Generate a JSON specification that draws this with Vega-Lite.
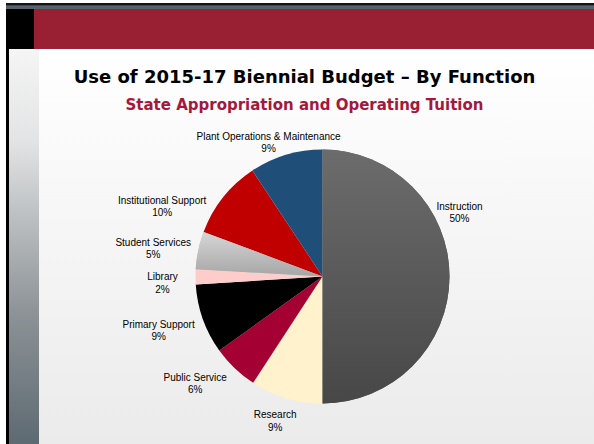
{
  "$schema": "https://vega.github.io/schema/vega-lite/v6.json",
  "background": "#ffffff",
  "padding": {"left": 6, "top": 3, "right": 0, "bottom": 0},
  "config": {"view": {"stroke": null}, "concat": {"spacing": 0}, "text": {"font": "Liberation Sans", "fontSize": 10, "lineBreak": "\n", "lineHeight": 12.5, "align": "center", "baseline": "middle", "color": "#000000"}},
  "spacing": 0,
  "vconcat": [
    {
      "width": 588, "height": 6,
      "data": {"values": [{}]},
      "mark": {"type": "rect", "color": {"gradient": "linear", "x1": 0, "y1": 0, "x2": 0, "y2": 1,
        "stops": [{"offset": 0, "color": "#151515"}, {"offset": 0.35, "color": "#151515"}, {"offset": 0.45, "color": "#56636a"}, {"offset": 1, "color": "#56636a"}]}},
      "encoding": {}
    },
    {
      "spacing": 0,
      "hconcat": [
        {"width": 28, "height": 40, "data": {"values": [{}]}, "mark": {"type": "rect", "color": "#000000"}, "encoding": {}},
        {"width": 560, "height": 40, "data": {"values": [{}]}, "mark": {"type": "rect", "color": "#991f33"}, "encoding": {}}
      ]
    },
    {
      "spacing": 0,
      "bounds": "flush",
      "hconcat": [
        {"width": 3, "height": 395, "data": {"values": [{}]}, "mark": {"type": "rect", "color": "#000000"}, "encoding": {}},
        {"width": 30, "height": 395, "data": {"values": [{}]},
          "mark": {"type": "rect", "color": {"gradient": "linear", "x1": 0, "y1": 0, "x2": 0, "y2": 1,
            "stops": [{"offset": 0, "color": "#f5f5f5"}, {"offset": 0.23, "color": "#e3e4e5"}, {"offset": 0.66, "color": "#8e9498"}, {"offset": 1, "color": "#5d6a72"}]}},
          "encoding": {}},
        {
          "width": 567, "height": 455,
          "title": {
            "text": "Use of 2015-17 Biennial Budget – By Function",
            "subtitle": "State  Appropriation and Operating Tuition",
            "anchor": "middle",
            "offset": -64,
            "dx": -18,
            "font": "DejaVu Sans", "fontSize": 18, "fontWeight": "bold", "color": "#000000",
            "subtitleFont": "DejaVu Sans", "subtitleFontSize": 15, "subtitleFontWeight": "bold", "subtitleColor": "#a6173d",
            "subtitlePadding": 11
          },
          "data": {"values": [
            {"order": 1, "name": "Instruction", "value": 50.0, "label": "Instruction\n50%"},
            {"order": 2, "name": "Research", "value": 9.2, "label": "Research\n9%"},
            {"order": 3, "name": "Public Service", "value": 5.9, "label": "Public Service\n6%"},
            {"order": 4, "name": "Primary Support", "value": 8.9, "label": "Primary Support\n9%"},
            {"order": 5, "name": "Library", "value": 1.9, "label": "Library\n2%"},
            {"order": 6, "name": "Student Services", "value": 4.8, "label": "Student Services\n5%"},
            {"order": 7, "name": "Institutional Support", "value": 10.0, "label": "Institutional Support\n10%"},
            {"order": 8, "name": "Plant Operations & Maintenance", "value": 9.3, "label": "Plant Operations & Maintenance\n9%"}
          ]},
          "layer": [
            {
              "data": {"values": [{}]},
              "mark": {"type": "rect", "color": {"gradient": "linear", "x1": 0, "y1": 0, "x2": 0, "y2": 1,
                "stops": [{"offset": 0, "color": "#ffffff"}, {"offset": 0.87, "color": "#ebebeb"}, {"offset": 1, "color": "#e8e8e8"}]}},
              "encoding": {}
            },
            {
              "mark": {"type": "arc", "radius": 127},
              "encoding": {
                "theta": {"field": "value", "type": "quantitative", "stack": true},
                "order": {"field": "order", "type": "quantitative"},
                "color": {"field": "name", "type": "nominal", "legend": null,
                  "scale": {
                    "domain": ["Instruction", "Research", "Public Service", "Primary Support", "Library", "Student Services", "Institutional Support", "Plant Operations & Maintenance"],
                    "range": ["#595959", "#fff2cc", "#a50034", "#000000", "#ffcccc", "#bfbfbf", "#c00000", "#1f4e79"]
                  }
                }
              }
            },
            {
              "mark": {"type": "arc", "radius": 127, "fill": {"gradient": "linear", "x1": 0, "y1": 0, "x2": 0, "y2": 1, "stops": [{"offset": 0, "color": "#6c6c6c"}, {"offset": 1, "color": "#474747"}]}},
              "encoding": {
                "theta": {"field": "value", "type": "quantitative", "stack": true},
                "order": {"field": "order", "type": "quantitative"},
                "opacity": {"condition": {"test": "datum.name === 'Instruction'", "value": 1}, "value": 0}
              }
            },
            {
              "mark": {"type": "arc", "radius": 127, "fill": {"gradient": "linear", "x1": 0, "y1": 0, "x2": 0, "y2": 1, "stops": [{"offset": 0, "color": "#d6d6d6"}, {"offset": 1, "color": "#a6a6a6"}]}},
              "encoding": {
                "theta": {"field": "value", "type": "quantitative", "stack": true},
                "order": {"field": "order", "type": "quantitative"},
                "opacity": {"condition": {"test": "datum.name === 'Student Services'", "value": 1}, "value": 0}
              }
            },
            {
              "mark": {"type": "text", "radius": 137, "dy": -70},
              "encoding": {
                "theta": {"field": "value", "type": "quantitative", "stack": true},
                "order": {"field": "order", "type": "quantitative"},
                "text": {"field": "label", "type": "nominal"},
                "opacity": {"condition": {"test": "datum.name === 'Instruction'", "value": 1}, "value": 0}
              }
            },
            {
              "mark": {"type": "text", "radius": 145, "dx": -6},
              "encoding": {
                "theta": {"field": "value", "type": "quantitative", "stack": true},
                "order": {"field": "order", "type": "quantitative"},
                "text": {"field": "label", "type": "nominal"},
                "opacity": {"condition": {"test": "datum.name === 'Research'", "value": 1}, "value": 0}
              }
            },
            {
              "mark": {"type": "text", "radius": 161, "dx": -16, "dy": -15},
              "encoding": {
                "theta": {"field": "value", "type": "quantitative", "stack": true},
                "order": {"field": "order", "type": "quantitative"},
                "text": {"field": "label", "type": "nominal"},
                "opacity": {"condition": {"test": "datum.name === 'Public Service'", "value": 1}, "value": 0}
              }
            },
            {
              "mark": {"type": "text", "radius": 174, "dy": -10},
              "encoding": {
                "theta": {"field": "value", "type": "quantitative", "stack": true},
                "order": {"field": "order", "type": "quantitative"},
                "text": {"field": "label", "type": "nominal"},
                "opacity": {"condition": {"test": "datum.name === 'Primary Support'", "value": 1}, "value": 0}
              }
            },
            {
              "mark": {"type": "text", "radius": 160},
              "encoding": {
                "theta": {"field": "value", "type": "quantitative", "stack": true},
                "order": {"field": "order", "type": "quantitative"},
                "text": {"field": "label", "type": "nominal"},
                "opacity": {"condition": {"test": "datum.name === 'Library'", "value": 1}, "value": 0}
              }
            },
            {
              "mark": {"type": "text", "radius": 173, "dy": 2},
              "encoding": {
                "theta": {"field": "value", "type": "quantitative", "stack": true},
                "order": {"field": "order", "type": "quantitative"},
                "text": {"field": "label", "type": "nominal"},
                "opacity": {"condition": {"test": "datum.name === 'Student Services'", "value": 1}, "value": 0}
              }
            },
            {
              "mark": {"type": "text", "radius": 173, "dx": -25, "dy": 32},
              "encoding": {
                "theta": {"field": "value", "type": "quantitative", "stack": true},
                "order": {"field": "order", "type": "quantitative"},
                "text": {"field": "label", "type": "nominal"},
                "opacity": {"condition": {"test": "datum.name === 'Institutional Support'", "value": 1}, "value": 0}
              }
            },
            {
              "mark": {"type": "text", "radius": 149, "dx": -11, "dy": 3},
              "encoding": {
                "theta": {"field": "value", "type": "quantitative", "stack": true},
                "order": {"field": "order", "type": "quantitative"},
                "text": {"field": "label", "type": "nominal"},
                "opacity": {"condition": {"test": "datum.name === 'Plant Operations & Maintenance'", "value": 1}, "value": 0}
              }
            }
          ]
        }
      ]
    }
  ]
}
